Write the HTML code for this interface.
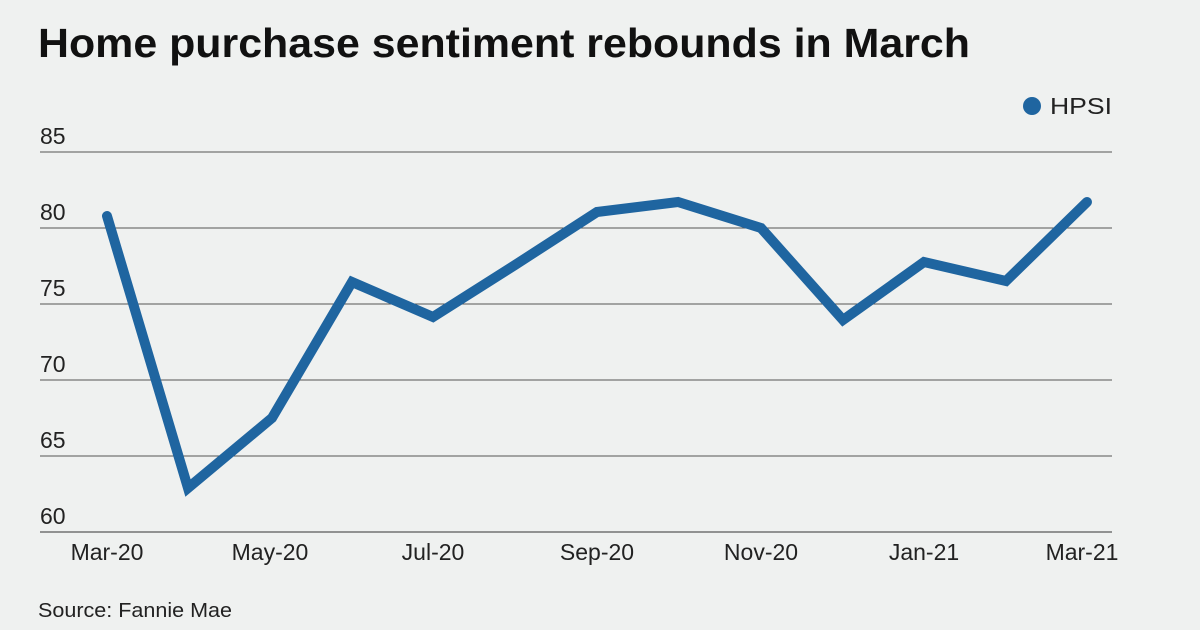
<!DOCTYPE html>
<html><head><meta charset="utf-8"><style>
html,body{margin:0;padding:0;background:#eff1f0;}
svg{display:block;}
text{font-family:"Liberation Sans",sans-serif;}
</style></head><body>
<svg width="1200" height="630" viewBox="0 0 1200 630" xmlns="http://www.w3.org/2000/svg">
<rect width="1200" height="630" fill="#eff1f0"/>
<text x="38" y="57" font-size="41" font-weight="bold" fill="#111" textLength="932" lengthAdjust="spacingAndGlyphs">Home purchase sentiment rebounds in March</text>
<circle cx="1032" cy="106" r="9" fill="#1f65a0"/>
<text x="1050" y="114" font-size="23" fill="#222" textLength="62" lengthAdjust="spacingAndGlyphs">HPSI</text>
<g stroke="#555" stroke-width="1">
<line x1="40" y1="152" x2="1112" y2="152"/>
<line x1="40" y1="228" x2="1112" y2="228"/>
<line x1="40" y1="304" x2="1112" y2="304"/>
<line x1="40" y1="380" x2="1112" y2="380"/>
<line x1="40" y1="456" x2="1112" y2="456"/>
<line x1="40" y1="532" x2="1112" y2="532" stroke="#333"/>
</g>
<g font-size="23" fill="#222">
<text x="40" y="144">85</text>
<text x="40" y="220">80</text>
<text x="40" y="296">75</text>
<text x="40" y="372">70</text>
<text x="40" y="448">65</text>
<text x="40" y="524">60</text>
</g>
<g font-size="23" fill="#222" text-anchor="middle">
<text x="107" y="560">Mar-20</text>
<text x="270" y="560">May-20</text>
<text x="433" y="560">Jul-20</text>
<text x="597" y="560">Sep-20</text>
<text x="761" y="560">Nov-20</text>
<text x="924" y="560">Jan-21</text>
<text x="1082" y="560">Mar-21</text>
</g>
<text x="38" y="617" font-size="20" fill="#222" textLength="194" lengthAdjust="spacingAndGlyphs">Source: Fannie Mae</text>
<polyline fill="none" stroke="#1f65a0" stroke-width="10" stroke-linejoin="miter" stroke-linecap="round"
points="107,216 188,488 272,418 352,282 433,317 515,265 597,212 678,202 761,228 843,320 924,262 1006,281 1087,202"/>
</svg>
</body></html>
